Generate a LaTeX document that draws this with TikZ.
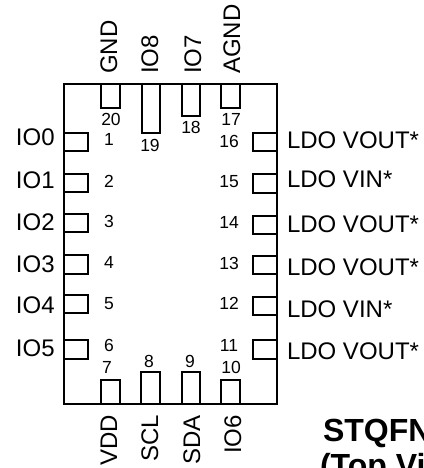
\documentclass[tikz,border=0pt]{standalone}
\usepackage{fontspec}
\setmainfont{Liberation Sans}
\tikzset{
  pinbox/.style={draw=black,line width=1.7pt,line join=miter},
  pinname/.style={inner sep=0pt,outer sep=0pt,font=\fontsize{24}{24}\selectfont},
  lblw/.style={pinname,anchor=base west},
  upw/.style={pinname,anchor=base west,rotate=90},
  upe/.style={pinname,anchor=base east,rotate=90},
  pinnum/.style={inner sep=0pt,outer sep=0pt,anchor=base,font=\fontsize{17.5}{17.5}\selectfont},
  title/.style={inner sep=0pt,outer sep=0pt,anchor=base west,font=\fontsize{32}{32}\selectfont\bfseries}
}
\begin{document}
\begin{tikzpicture}[x=1pt,y=-1pt]
\useasboundingbox (0,0) rectangle (423,468);
\clip (0,0) rectangle (423,468);
% package
\draw[pinbox] (64,84) rectangle (277,404);
% left pins
\foreach \a/\b in {133/151,174/192,214/232,255/274,295/313,340/359}
  \draw[pinbox] (64,\a) -- (88,\a) -- (88,\b) -- (64,\b);
% right pins
\foreach \a/\b in {133/151,174/193,216/234,256/274,297/315,340/359}
  \draw[pinbox] (277,\a) -- (253,\a) -- (253,\b) -- (277,\b);
% top pins
\foreach \a/\b/\c in {101/120/108,142/160/133,182/200/116,221/240/108}
  \draw[pinbox] (\a,84) -- (\a,\c) -- (\b,\c) -- (\b,84);
% bottom pins
\foreach \a/\b/\c in {101/120/380,141/160/372,182/200/372,221/240/380}
  \draw[pinbox] (\a,404) -- (\a,\c) -- (\b,\c) -- (\b,404);
% left labels
\node[lblw] (io0) at (16,146) {IO0};
\node[lblw] (io1) at (16,188) {IO1};
\node[lblw] (io2) at (16,230) {IO2};
\node[lblw] (io3) at (16,272) {IO3};
\node[lblw] (io4) at (16,313) {IO4};
\node[lblw] (io5) at (16,356) {IO5};
% right labels
\node[lblw] (ldo16) at (287,148) {LDO VOUT*};
\node[lblw] (ldo15) at (287,187) {LDO VIN*};
\node[lblw] (ldo14) at (287,232) {LDO VOUT*};
\node[lblw] (ldo13) at (287,275) {LDO VOUT*};
\node[lblw] (ldo12) at (287,317) {LDO VIN*};
\node[lblw] (ldo11) at (287,359) {LDO VOUT*};
% top labels
\node[upw] (gnd) at (117,74) {GND};
\node[upw] (io8) at (158,74) {IO8};
\node[upw] (io7) at (201,74) {IO7};
\node[upw] (agnd) at (240,74) {AGND};
% bottom labels
\node[upe] (vdd) at (117,415) {VDD};
\node[upe] (scl) at (158,415) {SCL};
\node[upe] (sda) at (200,415) {SDA};
\node[upe] (io6) at (241,415) {IO6};
% pin numbers
\node[pinnum] (n1) at (109,146) {1};
\node[pinnum] (n2) at (109,187) {2};
\node[pinnum] (n3) at (109,227) {3};
\node[pinnum] (n4) at (109,268) {4};
\node[pinnum] (n5) at (109,309) {5};
\node[pinnum] (n6) at (109,351) {6};
\node[pinnum] (n7) at (107,373) {7};
\node[pinnum] (n8) at (149,367) {8};
\node[pinnum] (n9) at (190,367) {9};
\node[pinnum] (n10) at (231,373) {10};
\node[pinnum] (n11) at (229,351) {11};
\node[pinnum] (n12) at (229,309) {12};
\node[pinnum] (n13) at (229,269) {13};
\node[pinnum] (n14) at (229,228) {14};
\node[pinnum] (n15) at (229,187) {15};
\node[pinnum] (n16) at (229,147) {16};
\node[pinnum] (n17) at (231,125) {17};
\node[pinnum] (n18) at (191,133) {18};
\node[pinnum] (n19) at (150,151) {19};
\node[pinnum] (n20) at (111,125) {20};
% title
\node[title] (t1) at (323,441) {STQFN};
\node[title] (t2) at (320,476) {(Top Vi};
\end{tikzpicture}
\end{document}
